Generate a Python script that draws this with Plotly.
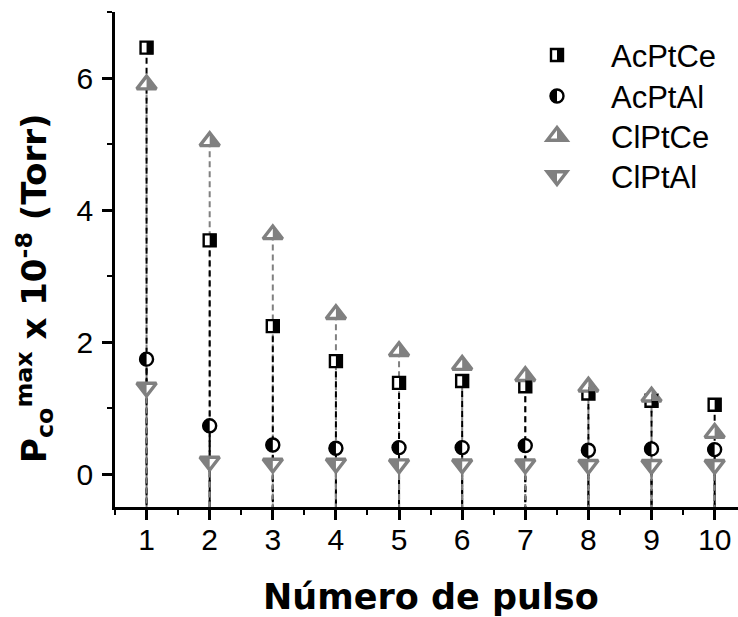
import math
import plotly.graph_objects as go

# ---- data -------------------------------------------------------------
pulses = [1, 2, 3, 4, 5, 6, 7, 8, 9, 10]
acptce = [6.46, 3.54, 2.24, 1.71, 1.38, 1.41, 1.33, 1.22, 1.11, 1.05]
acptal = [1.74, 0.73, 0.44, 0.39, 0.40, 0.40, 0.43, 0.36, 0.38, 0.37]
clptce = [5.90, 5.04, 3.63, 2.42, 1.86, 1.65, 1.48, 1.32, 1.17, 0.62]
clptal = [1.31, 0.19, 0.16, 0.16, 0.15, 0.15, 0.15, 0.14, 0.14, 0.14]
series_names = ["AcPtCe", "AcPtAl", "ClPtCe", "ClPtAl"]
y_ticks = [0, 2, 4, 6]
x_ticks = pulses

# ---- figure geometry --------------------------------------------------
W, H = 738, 617
ML, MR, MT, MB = 115, 0, 12, 110
PLOT_W = W - ML - MR
PLOT_H = H - MT - MB
X_RANGE = [0.5, 10.37]
Y_RANGE = [-0.5, 7.0]

BLACK = "#000000"
GREY = "#808080"
FONT = "Liberation Sans"
TITLE_FONT = "DejaVu Sans"


def paper_x(px):
    return (px - ML) / PLOT_W


def paper_y(py):
    return (H - MB - py) / PLOT_H


# marker styles: symbol, size, colour, outline width, filled half
styles = [
    dict(symbol="square", size=12, color=BLACK, lw=2.4, half="right"),
    dict(symbol="circle", size=13, color=BLACK, lw=2.4, half="left"),
    dict(symbol="triangle-up", size=17, color=GREY, lw=3.4, half="right"),
    dict(symbol="triangle-down", size=17, color=GREY, lw=3.4, half="left"),
]
values = [acptce, acptal, clptce, clptal]


def circle_path(r, part="full"):
    k = 0.5523 * r
    left = (f"M0,{r} C{-k},{r} {-r},{k} {-r},0 "
            f"C{-r},{-k} {-k},{-r} 0,{-r}")
    if part == "left":
        return left + " Z"
    return left + f" C{k},{-r} {r},{-k} {r},0 C{r},{k} {k},{r} 0,{r} Z"


def glyph_path(symbol, size, part="full", pad=0.0):
    """Path (pixel units, y up) of a marker glyph or one half of it."""
    r = size / 2.0
    if symbol == "square":
        h = r + pad
        if part == "right":
            return f"M0,{-h} H{h} V{h} H0 Z"
        return f"M{-r},{-r} H{r} V{r} H{-r} Z"
    if symbol == "circle":
        return circle_path(r + pad, part)
    rt = 2.0 * r / math.sqrt(3.0)
    if symbol == "triangle-up":
        if part == "right":
            return f"M0,{r} L{rt},{-r / 2} L0,{-r / 2} Z"
        return f"M{-rt},{-r / 2} L{rt},{-r / 2} L0,{r} Z"
    # triangle-down
    if part == "left":
        return f"M0,{r / 2} L{-rt},{r / 2} L0,{-r} Z"
    return f"M{-rt},{r / 2} L{rt},{r / 2} L0,{-r} Z"


def glyph_shape(st, x, y, xref, yref, part, fill, line_w=0, line_c=None, pad=0.0):
    return dict(type="path", xref=xref, yref=yref,
                xsizemode="pixel", ysizemode="pixel",
                xanchor=x, yanchor=y,
                path=glyph_path(st["symbol"], st["size"], part, pad),
                fillcolor=fill, layer="above",
                line=dict(width=line_w, color=line_c or fill))


def half_pad(st):
    return 0.6 if st["symbol"] in ("square", "circle") else 0.0


fig = go.Figure()

# dashed drop lines from every point down to the bottom axis
drop_order = [2, 1, 0, 3]
for i in drop_order:
    xs, ys = [], []
    for xv, yv in zip(pulses, values[i]):
        xs += [xv, xv, None]
        ys += [yv, Y_RANGE[0], None]
    fig.add_trace(go.Scatter(
        x=xs, y=ys, mode="lines", hoverinfo="skip", showlegend=False,
        line=dict(color=styles[i]["color"], width=2, dash="6px,4px"),
    ))

# markers (white body with coloured outline); the filled half goes on top
shapes = []
for name, st, vals in zip(series_names, styles, values):
    fig.add_trace(go.Scatter(
        x=pulses, y=vals, mode="markers", name=name, showlegend=False,
        marker=dict(symbol=st["symbol"], size=st["size"], color="white",
                    line=dict(color=st["color"], width=st["lw"])),
    ))
    for xv, yv in zip(pulses, vals):
        shapes.append(glyph_shape(st, xv, yv, "x", "y", st["half"], st["color"],
                                  pad=half_pad(st)))

# legend block
LEG_GLYPH_X = 557
LEG_TEXT_X = 609
LEG_ROWS = [55, 96, 136, 176]
annotations = []
for name, st, row in zip(series_names, styles, LEG_ROWS):
    gx, gy = paper_x(LEG_GLYPH_X), paper_y(row)
    shapes.append(glyph_shape(st, gx, gy, "paper", "paper", "full", "white",
                              line_w=st["lw"], line_c=st["color"]))
    shapes.append(glyph_shape(st, gx, gy, "paper", "paper", st["half"], st["color"],
                              pad=half_pad(st)))
    annotations.append(dict(
        text=name, xref="paper", yref="paper", x=paper_x(LEG_TEXT_X), y=paper_y(row + 1),
        xanchor="left", yanchor="middle", showarrow=False,
        font=dict(family=FONT, size=31, color=BLACK),
    ))

# axis titles
annotations.append(dict(
    text="<b>Número de pulso</b>", xref="paper", yref="paper",
    x=paper_x(431), y=paper_y(597), xanchor="center", yanchor="middle",
    showarrow=False, font=dict(family=TITLE_FONT, size=35, color=BLACK),
))
annotations.append(dict(
    text="<b>P<sub>co</sub><sup>max</sup> x 10<sup>-8</sup> (Torr)</b>",
    xref="paper", yref="paper", x=paper_x(34), y=paper_y(289),
    xanchor="center", yanchor="middle", textangle=-90, showarrow=False,
    font=dict(family=TITLE_FONT, size=34, color=BLACK),
))

axis_common = dict(
    showline=True, linewidth=2.5, linecolor=BLACK, mirror=False,
    ticks="outside", ticklen=10, tickwidth=2.5, tickcolor=BLACK,
    showgrid=False, zeroline=False,
    tickfont=dict(family=FONT, size=30, color=BLACK),
)

fig.update_layout(
    width=W, height=H,
    margin=dict(l=ML, r=MR, t=MT, b=MB, pad=0),
    paper_bgcolor="white", plot_bgcolor="white",
    showlegend=False,
    xaxis=dict(range=X_RANGE, tickvals=x_ticks, ticklabelstandoff=-6,
               minor=dict(dtick=0.5, tick0=0.5, ticks="outside", ticklen=5,
                          tickwidth=2, tickcolor=BLACK),
               **axis_common),
    yaxis=dict(range=Y_RANGE, tickvals=y_ticks, ticklabelstandoff=3,
               minor=dict(dtick=1, tick0=0, ticks="outside", ticklen=5,
                          tickwidth=2, tickcolor=BLACK),
               **axis_common),
    shapes=shapes,
    annotations=annotations,
)

fig.write_html("out.html")
